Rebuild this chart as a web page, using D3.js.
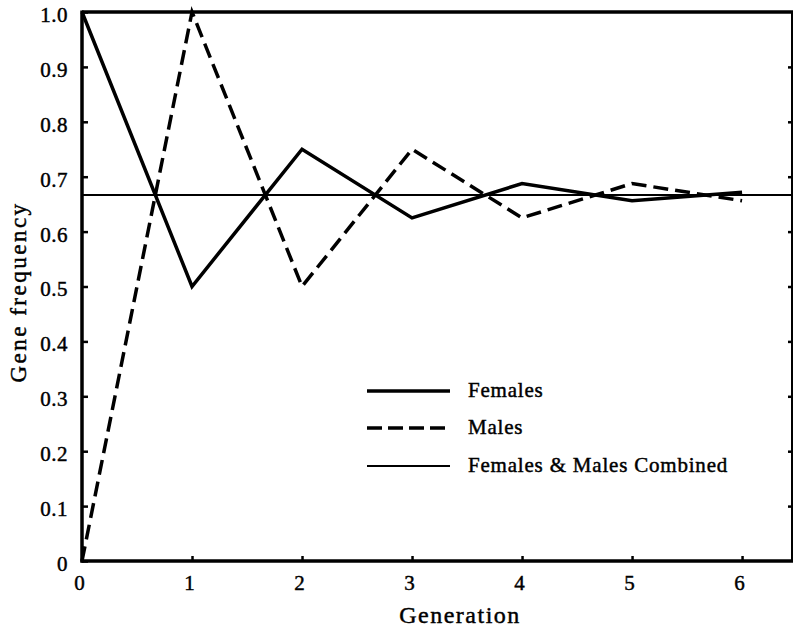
<!DOCTYPE html>
<html><head><meta charset="utf-8">
<script src="https://cdn.jsdelivr.net/npm/d3@7"></script>
<style>body{margin:0;background:#fff}svg{display:block}text{font-family:"Liberation Serif","Times New Roman",serif;fill:#000;stroke:#000;stroke-width:0.45px}</style>
</head><body>
<svg id="c" width="793" height="633"></svg>
<script>
const generations = [0,1,2,3,4,5,6];
const females = [1.0, 0.5, 0.75, 0.625, 0.6875, 0.65625, 0.671875];
const males   = [0.0, 1.0, 0.5, 0.75, 0.625, 0.6875, 0.65625];
const combined = 2/3;
const yTicks = [0,0.1,0.2,0.3,0.4,0.5,0.6,0.7,0.8,0.9,1.0];
const yTickLabels = ["0","0.1","0.2","0.3","0.4","0.5","0.6","0.7","0.8","0.9","1.0"];
const xTicks = [0,1,2,3,4,5,6];
const legendItems = ["Females","Males","Females & Males Combined"];

const svg = d3.select("#c");
const x = d3.scaleLinear().domain([0, 6.454]).range([82, 792]);
const y = d3.scaleLinear().domain([0, 1]).range([561, 12]);

const g = svg.append("g");
g.append("line").attr("x1",x(0)).attr("x2",793).attr("y1",y(1)).attr("y2",y(1)).attr("stroke","#000").attr("stroke-width",3.5);
g.append("line").attr("x1",792).attr("x2",792).attr("y1",y(1)).attr("y2",y(0)).attr("stroke","#000").attr("stroke-width",2);

const yAxis = d3.axisLeft(y).tickValues(yTicks).tickFormat((d,i)=>yTickLabels[i]).tickSize(-6).tickPadding(14);
const ya = svg.append("g").attr("transform",`translate(${x(0)},0)`).call(yAxis);
ya.attr("font-family",null).attr("font-size",null);
ya.select(".domain").attr("stroke-width",3.5).attr("d",`M0,${y(0)+1.5}V${y(1)-1.5}`);
ya.selectAll(".tick line").attr("stroke-width",2.5);
ya.selectAll(".tick text").attr("font-size",21).attr("letter-spacing",0.5).attr("dy","0.45em");

const yr = d3.axisRight(y).tickValues(yTicks.slice(1,10)).tickFormat("").tickSize(-4);
const yra = svg.append("g").attr("transform",`translate(792,0)`).call(yr);
yra.select(".domain").remove();
yra.selectAll(".tick line").attr("stroke-width",2.5);

const xAxis = d3.axisBottom(x).tickValues(xTicks).tickFormat(d3.format("d")).tickSize(-5).tickPadding(14);
const xa = svg.append("g").attr("transform",`translate(0,${y(0)})`).call(xAxis);
xa.attr("font-family",null).attr("font-size",null);
xa.select(".domain").attr("stroke-width",3.5).attr("d",`M${x(0)-1.5},0H793`);
xa.selectAll(".tick line").attr("stroke-width",2.5);
xa.selectAll(".tick text").attr("font-size",21).attr("dx",-3);

svg.append("text").attr("x",460).attr("y",623).attr("text-anchor","middle").attr("font-size",24).attr("letter-spacing",1.5).text("Generation");
svg.append("text").attr("transform","translate(26,292) rotate(-90)").attr("text-anchor","middle").attr("font-size",23).attr("letter-spacing",2.5).text("Gene frequency");

svg.append("line").attr("x1",x(0)).attr("x2",793).attr("y1",y(combined)).attr("y2",y(combined)).attr("stroke","#000").attr("stroke-width",2);

const line = d3.line().x((d,i)=>x(generations[i])).y(d=>y(d));
svg.append("path").datum(females).attr("d",line).attr("fill","none").attr("stroke","#000").attr("stroke-width",3.5);
svg.append("path").datum(males).attr("d",line).attr("fill","none").attr("stroke","#000").attr("stroke-width",3.5).attr("stroke-dasharray","15,7");

const ly = [391, 428, 466];
const styles = [{w:3.5,dash:null},{w:3.5,dash:"15,6"},{w:2,dash:null}];
legendItems.forEach((t,i)=>{
  svg.append("line").attr("x1",367).attr("x2",450).attr("y1",ly[i]).attr("y2",ly[i]).attr("stroke","#000").attr("stroke-width",styles[i].w).attr("stroke-dasharray",styles[i].dash);
  svg.append("text").attr("x",468).attr("y",ly[i]+6).attr("font-size",21).attr("letter-spacing",0.8).text(t);
});
</script>
</body></html>
